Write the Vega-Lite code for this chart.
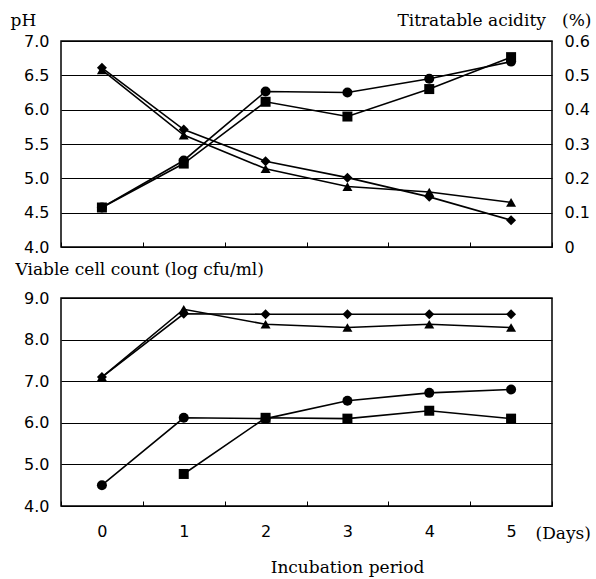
{
  "$schema": "https://vega.github.io/schema/vega-lite/v6.json",
  "padding": {"left": 9, "top": 10, "right": 4, "bottom": 4},
  "background": "white",
  "config": {
    "font": "DejaVu Sans",
    "view": {"stroke": "black", "strokeWidth": 1.5},
    "axis": {
      "labelFont": "DejaVu Sans", "labelFontSize": 16, "labelColor": "black",
      "titleFont": "DejaVu Serif", "titleFontSize": 17, "titleFontWeight": "normal", "titleColor": "black",
      "gridColor": "black", "gridOpacity": 1, "gridWidth": 1,
      "domain": false, "ticks": false, "tickSize": 0
    }
  },
  "datasets": {
    "ph": [
      {"series": "s1", "day": 0, "value": 6.61}, {"series": "s1", "day": 1, "value": 5.71}, {"series": "s1", "day": 2, "value": 5.25},
      {"series": "s1", "day": 3, "value": 5.01}, {"series": "s1", "day": 4, "value": 4.73}, {"series": "s1", "day": 5, "value": 4.39},
      {"series": "s2", "day": 0, "value": 6.58}, {"series": "s2", "day": 1, "value": 5.63}, {"series": "s2", "day": 2, "value": 5.14},
      {"series": "s2", "day": 3, "value": 4.88}, {"series": "s2", "day": 4, "value": 4.80}, {"series": "s2", "day": 5, "value": 4.65}
    ],
    "acid": [
      {"series": "s3", "day": 0, "value": 0.115}, {"series": "s3", "day": 1, "value": 0.252}, {"series": "s3", "day": 2, "value": 0.453},
      {"series": "s3", "day": 3, "value": 0.45}, {"series": "s3", "day": 4, "value": 0.49}, {"series": "s3", "day": 5, "value": 0.54},
      {"series": "s4", "day": 0, "value": 0.115}, {"series": "s4", "day": 1, "value": 0.243}, {"series": "s4", "day": 2, "value": 0.423},
      {"series": "s4", "day": 3, "value": 0.38}, {"series": "s4", "day": 4, "value": 0.46}, {"series": "s4", "day": 5, "value": 0.553}
    ],
    "cells": [
      {"series": "s1", "day": 0, "value": 7.1}, {"series": "s1", "day": 1, "value": 8.62}, {"series": "s1", "day": 2, "value": 8.61},
      {"series": "s1", "day": 3, "value": 8.61}, {"series": "s1", "day": 4, "value": 8.61}, {"series": "s1", "day": 5, "value": 8.61},
      {"series": "s2", "day": 0, "value": 7.1}, {"series": "s2", "day": 1, "value": 8.73}, {"series": "s2", "day": 2, "value": 8.37},
      {"series": "s2", "day": 3, "value": 8.29}, {"series": "s2", "day": 4, "value": 8.37}, {"series": "s2", "day": 5, "value": 8.29},
      {"series": "s3", "day": 0, "value": 4.5}, {"series": "s3", "day": 1, "value": 6.12}, {"series": "s3", "day": 2, "value": 6.1},
      {"series": "s3", "day": 3, "value": 6.53}, {"series": "s3", "day": 4, "value": 6.72}, {"series": "s3", "day": 5, "value": 6.8},
      {"series": "s4", "day": 1, "value": 4.77}, {"series": "s4", "day": 2, "value": 6.12},
      {"series": "s4", "day": 3, "value": 6.1}, {"series": "s4", "day": 4, "value": 6.29}, {"series": "s4", "day": 5, "value": 6.1}
    ]
  },
  "spacing": 51,
  "bounds": "flush",
  "title": {"text": "Incubation period", "orient": "bottom", "font": "DejaVu Serif", "fontSize": 17, "fontWeight": "normal", "color": "black", "anchor": "middle", "dx": 47, "offset": 18},
  "vconcat": [
    {
      "width": 491, "height": 206,
      "encoding": {
        "x": {"field": "day", "type": "ordinal", "scale": {"paddingInner": 0, "paddingOuter": 0},
              "axis": {"labels": false, "title": null, "ticks": true, "tickSize": -5, "tickBand": "extent", "tickColor": "black", "grid": false}}
      },
      "layer": [
        {
          "data": {"name": "ph"},
          "encoding": {
            "y": {"field": "value", "type": "quantitative", "scale": {"domain": [4, 7], "zero": false, "nice": false},
                  "axis": {"orient": "left", "values": [4, 4.5, 5, 5.5, 6, 6.5, 7], "format": ".1f", "grid": true, "labelPadding": 12,
                           "title": "pH", "titleAngle": 0, "titleAlign": "left", "titleBaseline": "middle", "titleX": -51, "titleY": -21}},
            "detail": {"field": "series"}
          },
          "layer": [
            {"mark": {"type": "line", "color": "black", "strokeWidth": 1.6}},
            {"mark": {"type": "point", "filled": true, "opacity": 1, "color": "black", "size": 100},
             "encoding": {"shape": {"field": "series", "scale": {"domain": ["s1", "s2", "s3", "s4"], "range": ["diamond", "triangle-up", "circle", "square"]}, "legend": null}}}
          ]
        },
        {
          "data": {"name": "acid"},
          "encoding": {
            "y": {"field": "value", "type": "quantitative", "scale": {"domain": [0, 0.6], "nice": false},
                  "axis": {"orient": "right", "values": [0, 0.1, 0.2, 0.3, 0.4, 0.5, 0.6], "labelExpr": "datum.value == 0 ? '0' : format(datum.value, '.1f')", "grid": false, "labelPadding": 12,
                           "title": "Titratable acidity\u00a0\u00a0\u00a0(%)", "titleAngle": 0, "titleAlign": "right", "titleBaseline": "middle", "titleX": 39, "titleY": -21}},
            "detail": {"field": "series"}
          },
          "layer": [
            {"mark": {"type": "line", "color": "black", "strokeWidth": 1.6}},
            {"mark": {"type": "point", "filled": true, "opacity": 1, "color": "black", "size": 100},
             "encoding": {"shape": {"field": "series", "scale": {"domain": ["s1", "s2", "s3", "s4"], "range": ["diamond", "triangle-up", "circle", "square"]}, "legend": null}}}
          ]
        }
      ],
      "resolve": {"scale": {"y": "independent"}}
    },
    {
      "width": 491, "height": 208,
      "data": {"name": "cells"},
      "encoding": {
        "x": {"field": "day", "type": "ordinal", "scale": {"paddingInner": 0, "paddingOuter": 0},
              "axis": {"labelAngle": 0, "ticks": true, "tickSize": -5, "tickBand": "extent", "tickColor": "black", "grid": false, "labelPadding": 22,
                       "title": "(Days)", "titleAngle": 0, "titleAlign": "left", "titleBaseline": "middle", "titleX": 474, "titleY": 27}},
        "y": {"field": "value", "type": "quantitative", "scale": {"domain": [4, 9], "zero": false, "nice": false},
              "axis": {"values": [4, 5, 6, 7, 8, 9], "format": ".1f", "grid": true, "labelPadding": 12,
                       "title": "Viable cell count (log cfu/ml)", "titleAngle": 0, "titleAlign": "left", "titleBaseline": "middle", "titleX": -46, "titleY": -29}},
        "detail": {"field": "series"}
      },
      "layer": [
        {"mark": {"type": "line", "color": "black", "strokeWidth": 1.6}},
        {"mark": {"type": "point", "filled": true, "opacity": 1, "color": "black", "size": 100},
         "encoding": {"shape": {"field": "series", "scale": {"domain": ["s1", "s2", "s3", "s4"], "range": ["diamond", "triangle-up", "circle", "square"]}, "legend": null}}}
      ]
    }
  ]
}
